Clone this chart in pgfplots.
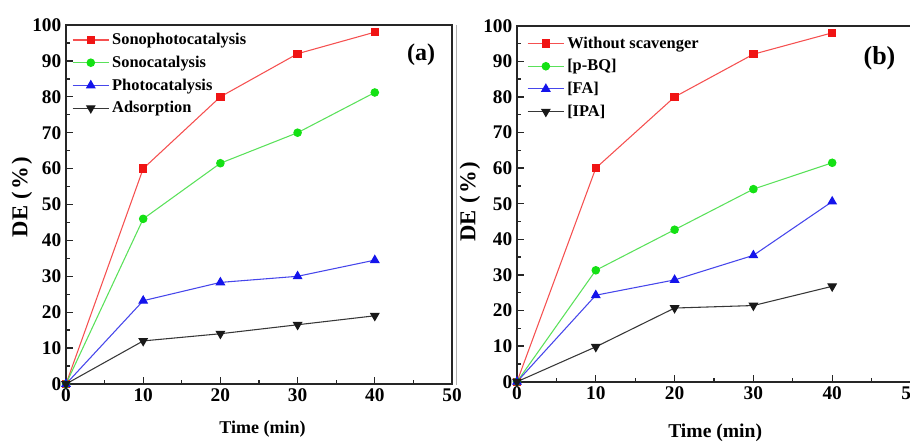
\documentclass[border=0pt]{standalone}
\usepackage{fontspec}
\setmainfont{Liberation Serif}
\usepackage{pgfplots}
\pgfplotsset{compat=1.18}

\definecolor{cred}{RGB}{240,20,20}
\definecolor{lred}{RGB}{245,80,80}
\definecolor{cgreen}{RGB}{20,225,20}
\definecolor{lgreen}{RGB}{90,225,90}
\definecolor{cblue}{RGB}{20,20,235}
\definecolor{lblue}{RGB}{70,70,235}
\definecolor{cblack}{RGB}{25,25,25}
\definecolor{lblack}{RGB}{55,55,55}

\newcommand{\delabel}{\fontsize{17}{19}\selectfont\bfseries
  DE\hspace{5pt}(\hspace{1.5pt}\%\hspace{1.5pt})}

\pgfplotsset{
  deplot/.style={
    scale only axis,
    xmin=0, xmax=50, ymin=0, ymax=100,
    xtick={0,10,...,50}, ytick={0,10,...,100},
    minor tick num=1,
    tick align=inside,
    xtick pos=bottom, ytick pos=left,
    major tick length=5pt, minor tick length=3pt,
    axis line style={line width=1.3pt, draw=black!85},
    every tick/.style={line width=1pt, black!85},
    tick label style={font=\fontsize{14.5}{16}\selectfont\bfseries},
    /pgf/number format/assume math mode=true,
    ylabel={\delabel},
    xlabel={Time (min)},
    legend cell align=left,
    legend style={draw=none, fill=none, anchor=north west,
      font=\fontsize{12.3}{14}\selectfont\bfseries, row sep=3pt,
      inner sep=0pt},
    legend image code/.code={
      \draw[mark repeat=2, mark phase=2, #1]
        plot coordinates {(0cm,0cm) (0.48cm,0cm) (0.96cm,0cm)};},
    every axis plot/.append style={line width=0.8pt},
  },
  sred/.style={lred, mark=square*, mark size=2.7pt, mark options={fill=cred, draw=cred}},
  sgreen/.style={lgreen, mark=*, mark size=2.8pt, mark options={fill=cgreen, draw=cgreen}},
  sblue/.style={lblue, mark=triangle*, mark size=3.5pt, mark options={fill=cblue, draw=cblue}},
  sblack/.style={lblack, mark=triangle*, mark size=3.5pt, mark options={fill=cblack, draw=cblack, rotate=180}},
}

\begin{document}
\begin{tikzpicture}
\path[use as bounding box, clip] (0,0) rectangle (682.5pt,331.5pt);

% separator of the left panel
\draw[black!30, line width=0.6pt] (342pt,43pt) -- (342pt,313pt);

% (a) degradation by process
\begin{axis}[deplot,
  at={(49.5pt,43.5pt)}, anchor=origin,
  width=289.5pt, height=269.25pt,
  legend style={at={(0.015,0.985)}},
  ylabel style={at={(axis description cs:0,0.52)}, anchor=center,
    yshift=33pt},
  xlabel style={at={(axis description cs:0.509,0)}, anchor=center,
    yshift=-33.75pt, font=\fontsize{13.5}{15}\selectfont\bfseries},
]
\addplot[sred] coordinates {(0,0) (10,60) (20,80) (30,92) (40,98)};
\addlegendentry{Sonophotocatalysis}
\addplot[sgreen] coordinates {(0,0) (10,46) (20,61.5) (30,70) (40,81.2)};
\addlegendentry{Sonocatalysis}
\addplot[sblue] coordinates {(0,0) (10,23.2) (20,28.3) (30,30) (40,34.5)};
\addlegendentry{Photocatalysis}
\addplot[sblack] coordinates {(0,0) (10,12) (20,14) (30,16.5) (40,19)};
\addlegendentry{Adsorption}
\node[font=\fontsize{18}{20}\selectfont\bfseries] at (rel axis cs:0.92,0.916) {(a)};
\end{axis}

% (b) effect of radical scavengers
\begin{axis}[deplot,
  at={(387.75pt,45.2pt)}, anchor=origin,
  width=295.5pt, height=267pt,
  legend style={at={(0.025,0.977)}},
  ylabel style={at={(axis description cs:0,0.506)}, anchor=center,
    yshift=35.25pt},
  xlabel style={at={(axis description cs:0.503,0)}, anchor=center,
    yshift=-38.5pt, font=\fontsize{14.7}{16}\selectfont\bfseries},
]
\addplot[sred] coordinates {(0,0) (10,60) (20,80) (30,92) (40,98)};
\addlegendentry{Without scavenger}
\addplot[sgreen] coordinates {(0,0) (10,31.3) (20,42.7) (30,54.1) (40,61.5)};
\addlegendentry{[p-BQ]}
\addplot[sblue] coordinates {(0,0) (10,24.3) (20,28.6) (30,35.5) (40,50.6)};
\addlegendentry{[FA]}
\addplot[sblack] coordinates {(0,0) (10,9.8) (20,20.7) (30,21.4) (40,26.8)};
\addlegendentry{[IPA]}
\node[font=\fontsize{19.5}{21}\selectfont\bfseries] at (axis cs:46.0,91) {(b)};
\end{axis}
\end{tikzpicture}
\end{document}
